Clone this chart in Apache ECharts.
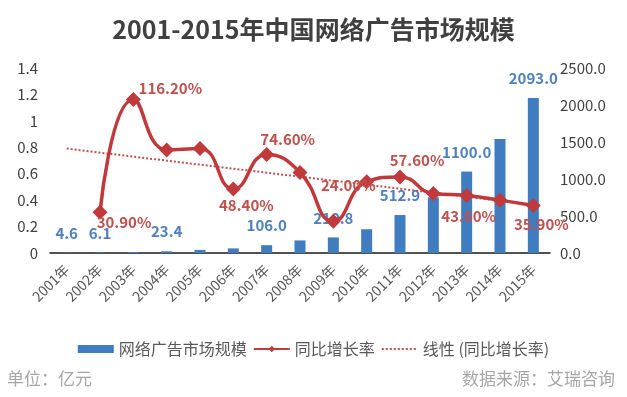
<!DOCTYPE html>
<html>
<head>
<meta charset="utf-8">
<script src="https://cdn.jsdelivr.net/npm/echarts@6/dist/echarts.min.js"></script>
<style>
html,body{margin:0;padding:0;background:#fff;}
#c{width:627px;height:397px;}
</style>
</head>
<body>
<div id="c"></div>
<script>
const categories = ['2001年','2002年','2003年','2004年','2005年','2006年','2007年','2008年','2009年','2010年','2011年','2012年','2013年','2014年','2015年'];
const marketSize = [4.6, 6.1, 13.2, 23.4, 41.9, 62.2, 106.0, 170.0, 210.8, 321.2, 512.9, 753.1, 1100.0, 1540.0, 2093.0];
const growthRate = [null, 0.309, 1.162, 0.78, 0.79, 0.484, 0.746, 0.61, 0.24, 0.54, 0.576, 0.45, 0.436, 0.40, 0.359];
const trendRate = [0.79, null, null, null, null, null, null, null, null, null, null, null, null, null, 0.365];
const sizeLabelIndex = [0, 1, 3, 6, 8, 10, 12, 14];
const rateLabelIndex = [1, 2, 5, 6, 8, 10, 12, 14];
const leftAxis = {min: 0, max: 1.4, interval: 0.2};
const rightAxis = {min: 0, max: 2500, interval: 500};
const seriesNames = ['网络广告市场规模', '同比增长率', '线性 (同比增长率)'];
const titleText = '2001-2015年中国网络广告市场规模';
const unitText = '单位：亿元';
const sourceText = '数据来源：艾瑞咨询';

// label offsets (styling, not data)
const rateLabelOffset = {1:[24,10], 2:[37,-11], 5:[13,16], 6:[21,-15], 8:[15,-36], 10:[17,-17], 12:[2,21], 14:[8,19]};

const FONT = '"Noto Sans CJK SC", "Noto Sans", sans-serif';
const RED = '#c0393b';
const RED_LABEL = '#c0504d';
const BLUE = '#3f7dc0';
const BLUE_LABEL = '#4f81bd';

const barData = marketSize.map((v, i) => ({
  value: v,
  label: {show: sizeLabelIndex.includes(i)}
}));
const lineData = growthRate.map((v, i) => {
  const o = {value: v};
  if (rateLabelIndex.includes(i)) {
    o.label = {show: true, offset: rateLabelOffset[i]};
  }
  return o;
});

const chart = echarts.init(document.getElementById('c'), null, {renderer: 'canvas'});
chart.setOption({
  backgroundColor: '#ffffff',
  animation: false,
  textStyle: {fontFamily: FONT},
  title: {
    text: titleText, left: 'center', top: 12,
    textStyle: {fontSize: 25, fontWeight: 'bold', color: '#404040', fontFamily: FONT}
  },
  legend: {
    data: [
      {name: seriesNames[0], icon: 'rect'},
      {name: seriesNames[1]},
      {name: seriesNames[2], itemStyle: {opacity: 0}}
    ],
    left: 'center', top: 336, itemWidth: 36, itemHeight: 8, itemGap: 6,
    textStyle: {fontSize: 16, color: '#595959', fontFamily: FONT}
  },
  grid: {left: 50, right: 77, top: 68, bottom: 144, containLabel: false},
  xAxis: {
    type: 'category', data: categories, boundaryGap: true,
    axisLine: {show: true, lineStyle: {color: '#1a1a1a', width: 1.5}},
    axisTick: {show: false},
    axisLabel: {rotate: 45, interval: 0, margin: 14, fontSize: 14, color: '#595959', fontFamily: FONT}
  },
  yAxis: [
    {
      type: 'value', min: leftAxis.min, max: leftAxis.max, interval: leftAxis.interval,
      axisLine: {show: false}, axisTick: {show: false}, splitLine: {show: false},
      axisLabel: {margin: 12, fontSize: 15, color: '#404040', fontFamily: FONT}
    },
    {
      type: 'value', min: rightAxis.min, max: rightAxis.max, interval: rightAxis.interval,
      axisLine: {show: false}, axisTick: {show: false}, splitLine: {show: false},
      axisLabel: {margin: 10, fontSize: 15, color: '#404040', fontFamily: FONT,
        formatter: v => v.toFixed(1)}
    }
  ],
  series: [
    {
      name: seriesNames[0], type: 'bar', yAxisIndex: 1, data: barData, barWidth: 11,
      itemStyle: {color: BLUE}, z: 2,
      label: {position: 'top', distance: 12, fontSize: 15, fontWeight: 'bold', color: BLUE_LABEL,
        fontFamily: FONT, formatter: p => p.value.toFixed(1)}
    },
    {
      name: seriesNames[1], type: 'line', yAxisIndex: 0, data: lineData, smooth: 0.5,
      symbol: 'diamond', symbolSize: 15, connectNulls: false,
      lineStyle: {color: RED, width: 3.5}, itemStyle: {color: RED}, z: 4,
      label: {position: 'inside', fontSize: 15, fontWeight: 'bold', color: RED_LABEL,
        fontFamily: FONT, formatter: p => (p.value * 100).toFixed(2) + '%'}
    },
    {
      name: seriesNames[2], type: 'line', yAxisIndex: 0, data: trendRate, connectNulls: true,
      symbol: 'none', lineStyle: {color: RED_LABEL, width: 2, type: 'dotted'},
      itemStyle: {color: RED_LABEL}, z: 3, silent: true
    }
  ],
  graphic: [
    {type: 'text', left: 7, top: 370, style: {text: unitText, fontSize: 17, fill: '#a6a6a6', fontFamily: FONT}},
    {type: 'text', right: 12, top: 370, style: {text: sourceText, fontSize: 17, fill: '#a6a6a6', fontFamily: FONT}}
  ]
});
</script>
</body>
</html>
